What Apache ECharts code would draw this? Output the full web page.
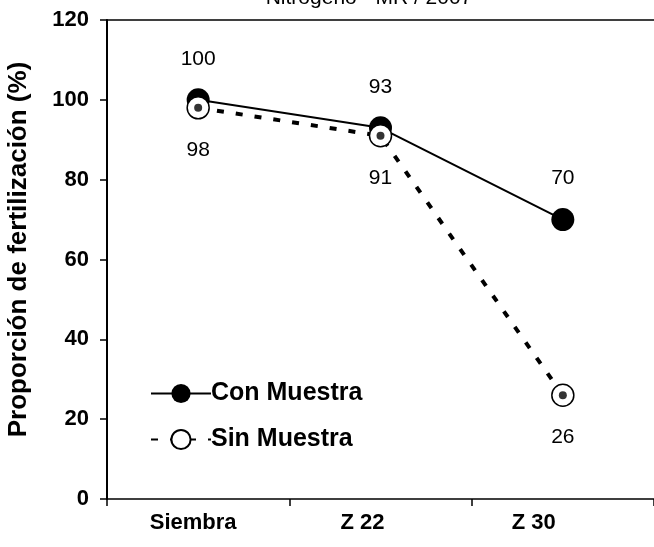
<!DOCTYPE html>
<html><head><meta charset="utf-8">
<script src="https://cdn.jsdelivr.net/npm/echarts@6/dist/echarts.min.js"></script>
<style>html,body{margin:0;padding:0;background:#fff}#c{width:654px;height:547px}</style>
</head><body><div id="c"></div>
<script>
const categories = ['Siembra', 'Z 22', 'Z 30'];
const conMuestra = [100, 93, 70];
const sinMuestra = [98, 91, 26];
const yTicks = [0, 20, 40, 60, 80, 100, 120];
const titleText = 'Nitrógeno - MR / 2007';

const chart = echarts.init(document.getElementById('c'));
const F = 'Liberation Sans, Arial, sans-serif';
const xl = { fontFamily: F, fontSize: 22, fontWeight: 'bold', color: '#000' };
chart.setOption({
  animation: false,
  backgroundColor: '#fff',
  title: { text: titleText, left: 364, textAlign: 'center', top: -17,
    textStyle: { fontFamily: F, fontSize: 21, fontWeight: 'normal', color: '#000' } },
  grid: { left: 107, right: 0, top: 20, bottom: 48, containLabel: false, outerBoundsMode: 'none' },
  legend: {
    orient: 'vertical', left: 145, top: 376, itemGap: 21, itemWidth: 60, itemHeight: 24,
    data: ['Con Muestra', 'Sin Muestra'],
    textStyle: { fontFamily: F, fontSize: 25, fontWeight: 'bold', color: '#000', padding: [0,0,0,-5] }
  },
  xAxis: [{
    type: 'category', data: categories, boundaryGap: true,
    axisLine: { lineStyle: { color: '#000', width: 1.5 } },
    axisTick: { show: true, length: 7, lineStyle: { color: '#000', width: 1.5 } },
    axisLabel: { margin: 13, color: '#000', fontFamily: F, fontSize: 22, fontWeight: 'bold',
      formatter: (v, i) => '{s' + i + '|' + v + '}',
      rich: {
        s0: Object.assign({ padding: [0, 10, 0, 0] }, xl),
        s1: Object.assign({ padding: [0, 36, 0, 0] }, xl),
        s2: Object.assign({ padding: [0, 58, 0, 0] }, xl)
      } }
  }, {
    type: 'category', data: categories, position: 'top',
    axisLine: { lineStyle: { color: '#000', width: 1.5 } },
    axisTick: { show: false }, axisLabel: { show: false }
  }],
  yAxis: {
    type: 'value', min: yTicks[0], max: yTicks[yTicks.length - 1], interval: 20,
    name: 'Proporción de fertilización (%)', nameLocation: 'middle', nameGap: 75, nameRotate: 90,
    nameTextStyle: { fontFamily: F, fontSize: 26, fontWeight: 'bold', color: '#000', padding: [0, 0, 0, 20] },
    axisLine: { show: true, lineStyle: { color: '#000', width: 2 } },
    axisTick: { show: true, length: 7, lineStyle: { color: '#000', width: 1.5 } },
    axisLabel: { margin: 18, color: '#000', fontFamily: F, fontSize: 22, fontWeight: 'bold' },
    splitLine: { show: false }
  },
  series: [{
    name: 'Con Muestra', type: 'line', data: conMuestra, z: 2,
    symbol: 'circle', symbolSize: 23,
    itemStyle: { color: '#000' },
    lineStyle: { color: '#000', width: 2 },
    label: { show: true, position: 'top', distance: 19, fontFamily: F, fontSize: 21, color: '#000' }
  }, {
    name: 'Sin Muestra', type: 'line', data: sinMuestra, z: 3,
    symbol: 'circle', symbolSize: 22,
    itemStyle: { color: '#fff', borderColor: '#000', borderWidth: 1.5 },
    lineStyle: { color: '#000', width: 4, type: [7, 12] },
    label: { show: true, position: 'bottom', distance: 20, fontFamily: F, fontSize: 21, color: '#000' }
  }, {
    name: 'dot', type: 'scatter', data: sinMuestra, z: 4,
    symbol: 'circle', symbolSize: 8, itemStyle: { color: '#000' }, silent: true
  }]
});
</script></body></html>
